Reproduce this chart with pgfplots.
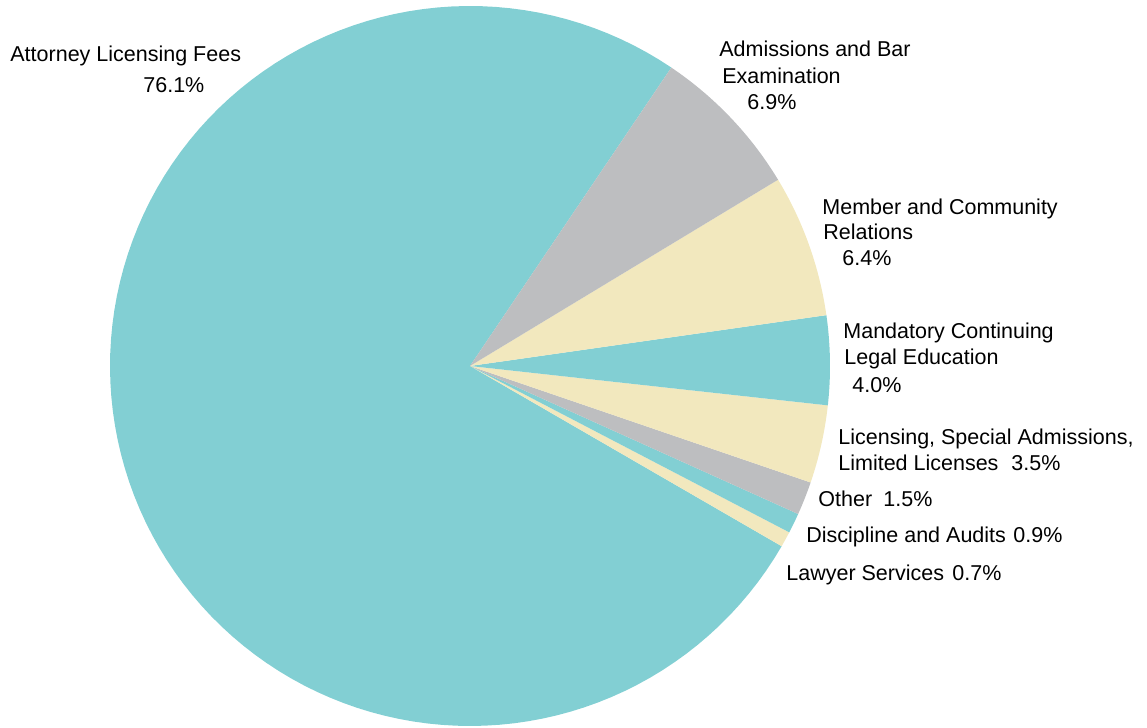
\documentclass[border=0pt]{standalone}
\usepackage{fontspec}
\setmainfont{Liberation Sans}
\usepackage{pgfplots}
\pgfplotsset{compat=1.18}

\definecolor{pieteal}{HTML}{82CFD3}
\definecolor{piegray}{HTML}{BDBEC0}
\definecolor{piecream}{HTML}{F2E8BE}

\tikzset{lbl/.style={font=\fontsize{10.75}{13}\selectfont, inner sep=0pt, anchor=base west}}

% #1 = cumulative percent before the slice, #2 = slice percent, #3 = colour
\newcommand{\slice}[3]{%
  \addplot[fill=#3, draw=none, samples=120, variable=\t,
    domain={56+3.6*#1}:{56+3.6*(#1+#2)}]
    ({470+360*cos(\t)}, {362+360*sin(\t)}) -- (axis cs:470,362) -- cycle;}

\begin{document}
\begin{tikzpicture}
\begin{axis}[
    x=0.5pt, y=0.5pt,
    xmin=0, xmax=1147, ymin=0, ymax=728,
    hide axis,
    clip=true,
]
\path (rel axis cs:0,0) rectangle (rel axis cs:1,1);

\slice{0}{76.1}{pieteal}      % Attorney Licensing Fees
\slice{76.1}{0.7}{piecream}   % Lawyer Services
\slice{76.8}{0.9}{pieteal}    % Discipline and Audits
\slice{77.7}{1.5}{piegray}    % Other
\slice{79.2}{3.5}{piecream}   % Licensing, Special Admissions
\slice{82.7}{4.0}{pieteal}    % Mandatory CLE
\slice{86.7}{6.4}{piecream}   % Member and Community Relations
\slice{93.1}{6.9}{piegray}    % Admissions and Bar Examination

\node[lbl] at (axis cs:10,666) {Attorney Licensing Fees};
\node[lbl] at (axis cs:143,635) {76.1\%};

\node[lbl] at (axis cs:719,671) {Admissions and Bar};
\node[lbl] at (axis cs:722,644) {Examination};
\node[lbl] at (axis cs:747,618) {6.9\%};

\node[lbl] at (axis cs:822,513) {Member and Community};
\node[lbl] at (axis cs:823,488) {Relations};
\node[lbl] at (axis cs:842,462) {6.4\%};

\node[lbl] at (axis cs:843,389) {Mandatory Continuing};
\node[lbl] at (axis cs:844,363) {Legal Education};
\node[lbl] at (axis cs:852,335) {4.0\%};

\node[lbl] at (axis cs:838,283) {Licensing, Special Admissions,};
\node[lbl] at (axis cs:838,257) {Limited Licenses};
\node[lbl] at (axis cs:1011,257) {3.5\%};

\node[lbl] at (axis cs:818,221) {Other};
\node[lbl] at (axis cs:883,221) {1.5\%};

\node[lbl] at (axis cs:806,185) {Discipline and Audits};
\node[lbl] at (axis cs:1013,185) {0.9\%};

\node[lbl] at (axis cs:786,147) {Lawyer Services};
\node[lbl] at (axis cs:952,147) {0.7\%};
\end{axis}
\end{tikzpicture}
\end{document}
